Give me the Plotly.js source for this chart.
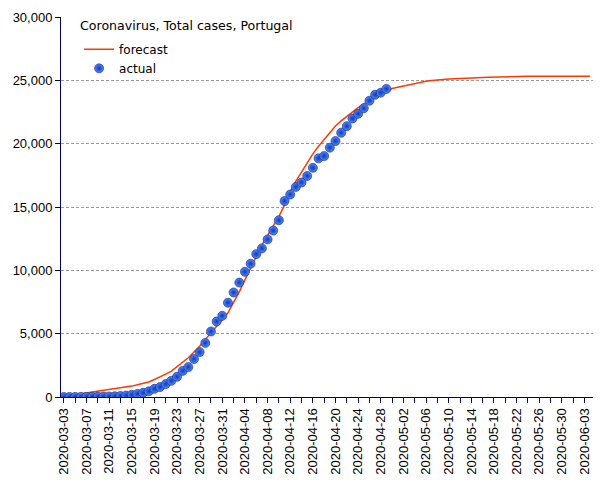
<!DOCTYPE html>
<html>
<head>
<meta charset="utf-8">
<script src="https://cdn.plot.ly/plotly-3.0.1.min.js"></script>
<style>html,body{margin:0;padding:0;background:#fff;}#chart{width:605px;height:480px;}</style>
</head>
<body>
<div id="chart"></div>
<script>
// Actual cumulative cases, one per day starting 2020-03-03
var actualStart = '2020-03-03';
var actualValues = [2, 4, 6, 9, 13, 21, 30, 39, 41, 59, 78, 112, 169, 245, 331, 448, 642, 785, 1020, 1280,
  1600, 2060, 2362, 2995, 3544, 4268, 5170, 5962, 6408, 7443, 8251, 9034, 9886, 10524, 11278, 11730,
  12442, 13141, 13956, 15472, 15987, 16585, 16934, 17448, 18091, 18841, 19022, 19685, 20206, 20863,
  21379, 21982, 22353, 22797, 23392, 23864, 24027, 24322];

// Forecast, one per day starting 2020-03-03
var forecastStart = '2020-03-03';
var forecastValues = [120, 160, 200, 250, 320, 390, 450, 510, 570, 630, 690, 770, 860, 960, 1060, 1180,
  1380, 1560, 1800, 2050, 2400, 2750, 3100, 3550, 4000, 4550, 5050, 5550, 6100, 6650, 7450, 8300,
  9250, 10200, 11100, 12000, 12750, 13500, 14250, 15150, 16200, 17050, 17800, 18550, 19200, 19800,
  20350, 20900, 21400, 21800, 22150, 22550, 22850, 23150, 23400, 23650, 23900, 24150, 24350, 24460,
  24560, 24650, 24750, 24840, 24920, 24980, 25030, 25070, 25100, 25120, 25150, 25170, 25190, 25210,
  25230, 25240, 25260, 25270, 25280, 25290, 25300, 25310, 25320, 25320, 25320, 25330, 25330, 25330,
  25330, 25330, 25330, 25330, 25330, 25330];

var titleText = 'Coronavirus, Total cases, Portugal';
var seriesNames = ['forecast', 'actual'];
var yTickVals = [0, 5000, 10000, 15000, 20000, 25000, 30000];
var yTickText = ['0', '5,000', '10,000', '15,000', '20,000', '25,000', '30,000'];

function dayList(start, n) {
  var out = [];
  var t0 = Date.parse(start + 'T00:00:00Z');
  for (var i = 0; i < n; i++) {
    out.push(new Date(t0 + i * 86400000).toISOString().slice(0, 10));
  }
  return out;
}

var forecastDates = dayList(forecastStart, forecastValues.length);
var actualDates = dayList(actualStart, actualValues.length);

var traces = [
  {
    type: 'scatter', mode: 'lines', name: seriesNames[0],
    x: forecastDates, y: forecastValues,
    line: {color: '#ff3a00', width: 1.5}
  },
  {
    type: 'scatter', mode: 'markers', name: seriesNames[1],
    x: actualDates, y: actualValues,
    marker: {size: 9, color: '#4f8cff',
      gradient: {type: 'radial', color: '#1236b8'},
      line: {width: 0.6, color: '#0a1e8a'}}
  }
];

var navy = '#000066';
var layout = {
  width: 605, height: 480,
  paper_bgcolor: '#ffffff', plot_bgcolor: '#ffffff',
  margin: {l: 61, r: 12, t: 17, b: 83, pad: 0},
  font: {family: 'Liberation Sans, Arial, sans-serif', size: 13, color: '#000'},
  title: {
    text: titleText, xref: 'container', yref: 'container',
    x: 80 / 605, xanchor: 'left', y: 1 - 26 / 480, yanchor: 'middle',
    font: {family: 'DejaVu Sans, sans-serif', size: 12.6, color: '#000'}
  },
  showlegend: true,
  legend: {
    x: 0.034, y: 0.953, xanchor: 'left', yanchor: 'top',
    bgcolor: 'rgba(0,0,0,0)',
    font: {family: 'DejaVu Sans, sans-serif', size: 12, color: '#000'},
    tracegroupgap: 0
  },
  xaxis: {
    type: 'date',
    range: ['2020-03-02 12:00', '2020-06-04 12:00'],
    tick0: '2020-03-03', dtick: 4 * 86400000,
    tickformat: '%Y-%m-%d', tickangle: -90,
    ticks: 'outside', ticklen: 5, tickcolor: navy, tickwidth: 1,
    minor: {tick0: '2020-03-03', dtick: 2 * 86400000, ticks: 'outside', ticklen: 5, tickcolor: navy, showgrid: false},
    showline: true, linecolor: navy, linewidth: 1,
    showgrid: false, zeroline: false,
    tickfont: {family: 'Liberation Sans, Arial, sans-serif', size: 13, color: '#000'}
  },
  yaxis: {
    range: [0, 30000],
    tickvals: yTickVals, ticktext: yTickText,
    ticks: 'outside', ticklen: 5, tickcolor: navy, tickwidth: 1,
    showline: true, linecolor: navy, linewidth: 1,
    showgrid: true, gridcolor: '#9a9a9a', gridwidth: 1, griddash: '3px,2px',
    zeroline: false,
    tickfont: {family: 'Liberation Sans, Arial, sans-serif', size: 13, color: '#000'}
  }
};

Plotly.newPlot('chart', traces, layout, {displayModeBar: false, staticPlot: true});
</script>
</body>
</html>
